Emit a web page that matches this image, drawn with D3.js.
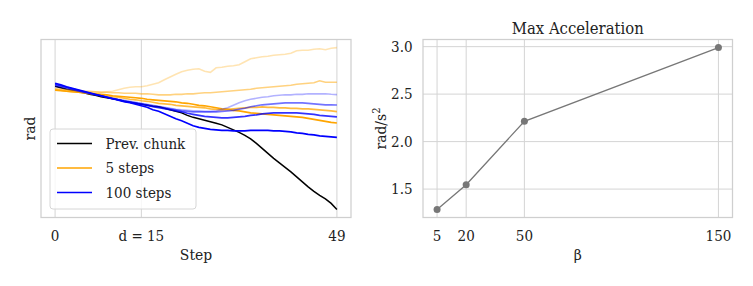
<!DOCTYPE html>
<html>
<head>
<meta charset="utf-8">
<script src="https://cdn.jsdelivr.net/npm/d3@7"></script>
<style>
  html, body { margin: 0; padding: 0; background: #fff; }
  svg text { font-family: "DejaVu Serif Condensed", "DejaVu Serif", serif; font-stretch: condensed; fill: #222; }
</style>
</head>
<body>
<svg id="chart" width="753" height="286"></svg>
<script>
// ---- data (left: joint angle per step, rad) ----
var steps = d3.range(0, 50);
var stepTicks = [0, 15, 49];
var stepTickLabels = ["0", "d = 15", "49"];

var prevChunk = [.42,.405,.39,.38,.365,.355,.34,.33,.315,.305,.295,.285,.27,.26,.25,.24,.23,.22,.215,.20,
  .185,.17,.155,.13,.11,.095,.08,.065,.05,.035,.01,-.015,-.04,-.07,-.105,-.15,-.20,-.25,-.30,-.345,
  -.39,-.435,-.485,-.535,-.585,-.63,-.67,-.705,-.75,-.81];

var fiveSteps = [
  [.39,.385,.38,.375,.37,.365,.36,.36,.36,.365,.37,.385,.40,.41,.415,.415,.425,.44,.455,.485,
   .513,.54,.565,.58,.59,.595,.57,.56,.605,.61,.62,.625,.635,.665,.695,.705,.715,.72,.73,.735,
   .74,.75,.775,.78,.78,.79,.795,.785,.80,.807],
  [.395,.39,.385,.38,.375,.37,.37,.365,.36,.36,.355,.355,.35,.35,.35,.345,.345,.34,.335,.335,
   .335,.34,.34,.345,.345,.35,.355,.355,.36,.365,.37,.375,.38,.385,.39,.40,.405,.41,.415,.42,
   .425,.43,.44,.445,.45,.455,.475,.46,.46,.46],
  [.385,.38,.37,.365,.36,.355,.345,.34,.33,.325,.315,.31,.30,.29,.285,.275,.27,.26,.25,.245,
   .24,.23,.225,.22,.215,.21,.205,.195,.19,.185,.19,.195,.20,.205,.21,.21,.215,.21,.21,.205,
   .205,.20,.20,.195,.195,.19,.185,.18,.175,.167],
  [.38,.375,.37,.365,.36,.355,.35,.345,.34,.335,.325,.32,.315,.31,.305,.30,.29,.285,.28,.275,
   .27,.265,.255,.25,.24,.23,.225,.215,.205,.195,.19,.18,.175,.165,.155,.15,.145,.14,.135,.13,
   .125,.12,.115,.11,.10,.09,.08,.07,.06,.053]
];

var hundredSteps = [
  [.42,.41,.395,.385,.37,.36,.35,.335,.325,.315,.30,.29,.28,.27,.26,.25,.24,.23,.22,.21,
   .20,.19,.185,.18,.175,.175,.17,.17,.175,.19,.205,.23,.255,.275,.29,.30,.31,.315,.325,.33,
   .335,.335,.34,.34,.345,.345,.345,.345,.34,.337],
  [.43,.42,.405,.39,.375,.36,.35,.335,.325,.31,.30,.285,.275,.265,.255,.245,.235,.225,.215,.205,
   .195,.185,.175,.17,.165,.165,.165,.165,.165,.17,.175,.18,.19,.20,.215,.225,.235,.24,.245,.25,
   .255,.255,.255,.255,.25,.245,.24,.235,.235,.233],
  [.44,.425,.41,.395,.38,.365,.35,.335,.325,.31,.295,.285,.27,.26,.25,.24,.23,.215,.205,.195,
   .185,.175,.165,.15,.14,.13,.12,.115,.11,.105,.105,.11,.115,.12,.13,.135,.145,.15,.155,.155,
   .155,.155,.155,.15,.145,.14,.13,.125,.12,.115],
  [.45,.435,.415,.40,.385,.37,.355,.34,.325,.31,.295,.28,.265,.255,.24,.225,.21,.185,.17,.145,
   .12,.095,.075,.05,.025,.01,0,-.01,-.015,-.02,-.02,-.025,-.025,-.025,-.02,-.02,-.02,-.02,-.025,-.025,
   -.03,-.035,-.045,-.05,-.06,-.065,-.075,-.08,-.085,-.09]
];
var fiveAlpha = [0.3, 0.5, 0.75, 1];
var hundredAlpha = [0.3, 0.55, 0.8, 1];

// ---- data (right: max acceleration vs beta) ----
var betas = [5, 20, 50, 150];
var maxAcc = [1.286, 1.546, 2.214, 2.99];
var accTicks = [1.5, 2.0, 2.5, 3.0];

var svg = d3.select('#chart');
var gridColor = '#d4d4d4';

function frame(g, x0, x1, y0, y1) {
  g.append('rect')
    .attr('x', x0).attr('y', y0)
    .attr('width', x1 - x0).attr('height', y1 - y0)
    .attr('fill', 'none')
    .attr('stroke', '#cfcfcf')
    .attr('stroke-width', 1.25);
}

// ================= left panel =================
var L = {left: 41, right: 351, top: 39.5, bottom: 217.5};
var xL = d3.scaleLinear().domain([-2.45, 51.45]).range([L.left, L.right]);
var allVals = prevChunk.concat(d3.merge(fiveSteps), d3.merge(hundredSteps));
var ext = d3.extent(allVals), pad = (ext[1] - ext[0]) * 0.05;
var yL = d3.scaleLinear().domain([ext[0] - pad, ext[1] + pad]).range([L.bottom, L.top]);

var gl = svg.append('g');
gl.selectAll('.vgrid').data(stepTicks).enter().append('line')
  .attr('x1', function(d){ return xL(d); }).attr('x2', function(d){ return xL(d); })
  .attr('y1', L.top).attr('y2', L.bottom)
  .attr('stroke', gridColor).attr('stroke-width', 1);

var line = d3.line()
  .x(function(d, i){ return xL(steps[i]); })
  .y(function(d){ return yL(d); });

gl.append('path').datum(prevChunk)
  .attr('d', line).attr('fill', 'none')
  .attr('stroke', '#000').attr('stroke-width', 1.5);

fiveSteps.forEach(function(s, i){
  gl.append('path').datum(s)
    .attr('d', line).attr('fill', 'none')
    .attr('stroke', 'orange').attr('stroke-opacity', fiveAlpha[i])
    .attr('stroke-width', 1.6);
});
hundredSteps.forEach(function(s, i){
  gl.append('path').datum(s)
    .attr('d', line).attr('fill', 'none')
    .attr('stroke', 'blue').attr('stroke-opacity', hundredAlpha[i])
    .attr('stroke-width', 1.6);
});

frame(gl, L.left, L.right, L.top, L.bottom);

gl.selectAll('.xt').data(stepTicks).enter().append('text')
  .attr('x', function(d){ return xL(d); })
  .attr('y', 241)
  .attr('text-anchor', 'middle')
  .attr('font-size', 15)
  .text(function(d, i){ return stepTickLabels[i]; });

gl.append('text').attr('x', (L.left + L.right) / 2).attr('y', 259.5)
  .attr('text-anchor', 'middle').attr('font-size', 15.5).text('Step');
gl.append('text')
  .attr('transform', 'translate(35,' + ((L.top + L.bottom) / 2) + ') rotate(-90)')
  .attr('text-anchor', 'middle').attr('font-size', 15.5).text('rad');

// legend
var leg = gl.append('g');
leg.append('rect').attr('x', 50).attr('y', 129).attr('width', 146).attr('height', 80)
  .attr('rx', 3).attr('fill', '#fff').attr('fill-opacity', 0.8)
  .attr('stroke', '#d6d6d6').attr('stroke-width', 1);
var legItems = [
  {label: 'Prev. chunk', color: '#000'},
  {label: '5 steps', color: 'orange'},
  {label: '100 steps', color: 'blue'}
];
legItems.forEach(function(d, i){
  var yy = 143.5 + i * 24.5;
  leg.append('line').attr('x1', 57).attr('x2', 92).attr('y1', yy).attr('y2', yy)
    .attr('stroke', d.color).attr('stroke-width', 1.5);
  leg.append('text').attr('x', 105.5).attr('y', yy + 5)
    .attr('font-size', 15).text(d.label);
});

// ================= right panel =================
var R = {left: 423, right: 732.5, top: 39.5, bottom: 217.5};
var bx = d3.extent(betas), bpad = (bx[1] - bx[0]) * 0.05;
var xR = d3.scaleLinear().domain([bx[0] - bpad, bx[1] + bpad]).range([R.left, R.right]);
var ay = d3.extent(maxAcc), apad = (ay[1] - ay[0]) * 0.05;
var yR = d3.scaleLinear().domain([ay[0] - apad, ay[1] + apad]).range([R.bottom, R.top]);

var gr = svg.append('g');
gr.selectAll('.vg').data(betas).enter().append('line')
  .attr('x1', function(d){ return xR(d); }).attr('x2', function(d){ return xR(d); })
  .attr('y1', R.top).attr('y2', R.bottom)
  .attr('stroke', gridColor).attr('stroke-width', 1);
gr.selectAll('.hg').data(accTicks).enter().append('line')
  .attr('x1', R.left).attr('x2', R.right)
  .attr('y1', function(d){ return yR(d); }).attr('y2', function(d){ return yR(d); })
  .attr('stroke', gridColor).attr('stroke-width', 1);

frame(gr, R.left, R.right, R.top, R.bottom);

var line2 = d3.line()
  .x(function(d, i){ return xR(betas[i]); })
  .y(function(d){ return yR(d); });
gr.append('path').datum(maxAcc).attr('d', line2)
  .attr('fill', 'none').attr('stroke', '#777').attr('stroke-width', 1.3);
gr.selectAll('.pt').data(maxAcc).enter().append('circle')
  .attr('cx', function(d, i){ return xR(betas[i]); })
  .attr('cy', function(d){ return yR(d); })
  .attr('r', 3.5).attr('fill', '#777');

gr.selectAll('.xt').data(betas).enter().append('text')
  .attr('x', function(d){ return xR(d); }).attr('y', 241)
  .attr('text-anchor', 'middle').attr('font-size', 15)
  .text(function(d){ return d; });
gr.selectAll('.yt').data(accTicks).enter().append('text')
  .attr('x', 412.5).attr('y', function(d){ return yR(d) + 5; })
  .attr('text-anchor', 'end').attr('font-size', 15)
  .text(function(d){ return d3.format('.1f')(d); });

gr.append('text').attr('x', (R.left + R.right) / 2).attr('y', 260)
  .attr('text-anchor', 'middle').attr('font-size', 15.5).text('β');
var yl = gr.append('text')
  .attr('transform', 'translate(386,' + ((R.top + R.bottom) / 2) + ') rotate(-90)')
  .attr('text-anchor', 'middle').attr('font-size', 15.5);
yl.append('tspan').text('rad/s');
yl.append('tspan').attr('dy', -6).attr('font-size', 11).text('2');

gr.append('text').attr('x', (R.left + R.right) / 2).attr('y', 33.5)
  .attr('text-anchor', 'middle').attr('font-size', 16.5).text('Max Acceleration');
</script>
</body>
</html>
